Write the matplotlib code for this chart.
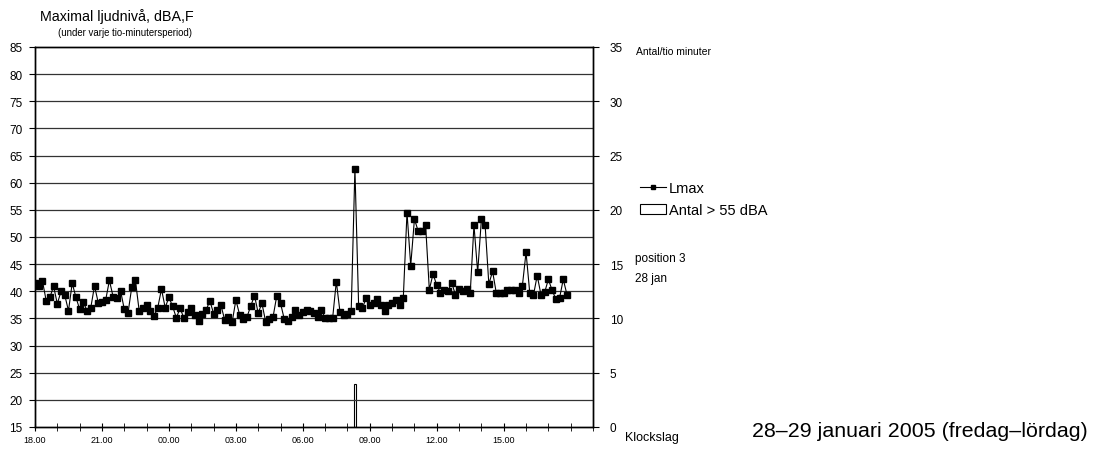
import matplotlib
matplotlib.use("Agg")
import matplotlib.pyplot as plt
import numpy as np
from matplotlib.lines import Line2D
from matplotlib.patches import Patch

plt.rcParams['font.family'] = ['Liberation Sans', 'DejaVu Sans']

# Lmax per 10-minute period starting 18:00
lmax = [41.5, 41.0, 41.9, 38.3, 38.9, 40.9, 37.7, 40.0, 39.3, 36.4,
        41.5, 38.9, 36.7, 38.0, 36.4, 37.0, 41.0, 37.9, 38.1, 38.4,
        42.0, 39.0, 38.7, 40.1, 36.7, 36.0, 40.7, 42.0, 36.4, 37.0,
        37.5, 36.3, 35.4, 37.0, 40.4, 37.0, 38.9, 37.2, 35.1, 36.9,
        35.1, 36.1, 36.9, 35.7, 34.6, 35.9, 36.5, 38.3, 35.9, 36.6,
        37.4, 34.7, 35.3, 34.3, 38.4, 35.7, 34.9, 35.3, 37.3, 39.2,
        36.0, 37.8, 34.4, 34.9, 35.3, 39.2, 37.8, 34.9, 34.6, 35.2,
        36.6, 35.6, 36.1, 36.5, 36.35, 36.0, 35.2, 36.6, 35.0, 35.0,
        35.0, 41.8, 36.1, 35.6, 35.9, 36.35, 62.6, 37.3, 36.9, 38.7,
        37.5, 37.9, 38.6, 37.5, 36.35, 37.5, 37.8, 38.4, 37.5, 38.7,
        54.5, 44.75, 53.3, 51.1, 51.1, 52.2, 40.3, 43.2, 41.1, 39.7,
        40.3, 40.0, 41.6, 39.4, 40.5, 40.0, 40.5, 39.7, 52.2, 43.5,
        53.3, 52.2, 41.3, 43.7, 39.7, 39.7, 39.7, 40.2, 40.2, 40.2,
        39.7, 40.9, 47.2, 39.7, 39.3, 42.9, 39.4, 39.8, 42.2, 40.2,
        38.6, 38.7, 42.2, 39.4]
# number of events > 55 dBA (only non-zero period)
antal_hour = [14 + 20 / 60]
antal_count = [4]

tick_hours = [0, 3, 6, 9, 12, 15, 18, 21]
tick_labels = ['18.00', '21.00', '00.00', '03.00', '06.00', '09.00', '12.00', '15.00']

fig = plt.figure(figsize=(10.98, 4.52), dpi=100)
ax = fig.add_axes([35 / 1098, 1 - 428 / 452, (593 - 35) / 1098, (428 - 48) / 452])
ax2 = ax.twinx()

x = np.arange(len(lmax)) / 6.0
ax.set_xlim(0, 25)
ax.set_ylim(15, 85)
ax2.set_ylim(0, 35)

for yv in range(20, 85, 5):
    ax.axhline(yv, color='#333333', lw=0.9, zorder=1)

ax2.bar(antal_hour, antal_count, width=0.1, color='white', edgecolor='black', lw=0.8, zorder=2)
ax.plot(x, lmax, color='black', lw=0.8, marker='s', ms=3.7, zorder=3)
ax.set_zorder(ax2.get_zorder() + 1)
ax.patch.set_visible(False)

ax.set_yticks(range(15, 90, 5))
ax.tick_params(axis='y', direction='out', length=4, labelsize=8.5, pad=5)
ax2.set_yticks(range(0, 40, 5))
ax2.set_yticks(np.arange(2.5, 35, 5), minor=True)
ax2.tick_params(axis='y', which='major', direction='out', length=4, labelsize=8.5, pad=8)
ax2.tick_params(axis='y', which='minor', direction='in', length=4)

ax.set_xticks(tick_hours)
ax.set_xticklabels(tick_labels)
ax.set_xticks(range(0, 26), minor=True)
ax.tick_params(axis='x', which='both', direction='inout', length=6, labelsize=6.5, pad=3)

for a in (ax, ax2):
    for s in a.spines.values():
        s.set_linewidth(1.0)
        s.set_color('black')

fig.text(40 / 1098, 1 - 17 / 452, 'Maximal ljudnivå, dBA,F', fontsize=10.3, va='center', ha='left')
fig.text(58 / 1098, 1 - 33 / 452, '(under varje tio-minutersperiod)', fontsize=6.9, va='center', ha='left')
fig.text(636 / 1098, 1 - 52 / 452, 'Antal/tio minuter', fontsize=7.5, va='center', ha='left')
fig.text(635 / 1098, 1 - 259 / 452, 'position 3', fontsize=8.5, va='center', ha='left')
fig.text(635 / 1098, 1 - 279 / 452, '28 jan', fontsize=8.5, va='center', ha='left')
fig.text(625 / 1098, 1 - 438 / 452, 'Klockslag', fontsize=9, va='center', ha='left')
fig.text(752 / 1098, 1 - 432 / 452, '28–29 januari 2005 (fredag–lördag)', fontsize=15.4, va='center', ha='left')

handles = [Line2D([0], [0], color='black', lw=0.8, marker='s', ms=3),
           Patch(facecolor='white', edgecolor='black', lw=0.8)]
fig.legend(handles, ['Lmax', 'Antal > 55 dBA'], loc='upper left',
           bbox_to_anchor=(634 / 1098, 1 - 176 / 452), frameon=False, fontsize=10.5,
           handlelength=1.8, handletextpad=0.2, labelspacing=0.55, borderaxespad=0)

fig.savefig('out.png', dpi=100)
